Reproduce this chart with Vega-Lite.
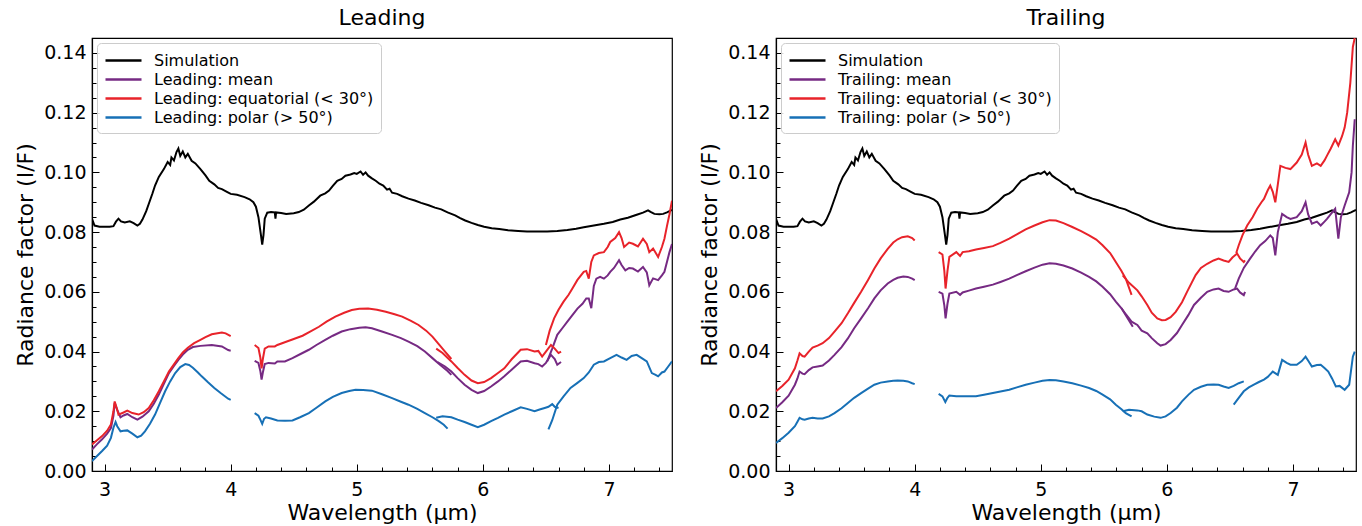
{
  "$schema": "https://vega.github.io/schema/vega-lite/v6.json",
  "padding": {"left": 14, "top": 6, "right": 4, "bottom": 2},
  "config": {
    "font": "DejaVu Sans",
    "view": {"stroke": "black", "strokeWidth": 1.2},
    "axis": {
      "grid": false, "domainColor": "black", "domainWidth": 1.2, "tickColor": "black", "tickWidth": 1,
      "labelColor": "black", "titleColor": "black", "labelFont": "DejaVu Sans", "titleFont": "DejaVu Sans",
      "labelFontSize": 19, "titleFontSize": 22, "titleFontWeight": "normal"
    },
    "legend": {
      "orient": "top-left", "offset": 5, "padding": 7, "fillColor": "rgba(255,255,255,0.85)",
      "strokeColor": "#cccccc", "cornerRadius": 4, "symbolType": "M-2,0H2", "symbolSize": 324,
      "symbolOffset": 9, "symbolStrokeWidth": 2.5, "labelFontSize": 16, "labelFont": "DejaVu Sans", "labelColor": "black",
      "labelLimit": 400, "rowPadding": 0, "labelOffset": 20
    },
    "title": {"fontSize": 22, "fontWeight": "normal", "font": "DejaVu Sans", "offset": 8, "anchor": "middle"},
    "concat": {"spacing": 25}
  },
  "datasets": {
    "sim": [
      {"s":"Simulation","w":2.90,"v":0.0844},{"s":"Simulation","w":2.92,"v":0.0822},{"s":"Simulation","w":2.96,"v":0.0818},
      {"s":"Simulation","w":3.00,"v":0.0818},{"s":"Simulation","w":3.04,"v":0.0818},{"s":"Simulation","w":3.07,"v":0.0820},
      {"s":"Simulation","w":3.09,"v":0.0835},{"s":"Simulation","w":3.11,"v":0.0845},{"s":"Simulation","w":3.13,"v":0.0836},
      {"s":"Simulation","w":3.16,"v":0.0832},{"s":"Simulation","w":3.20,"v":0.0836},{"s":"Simulation","w":3.23,"v":0.0830},
      {"s":"Simulation","w":3.26,"v":0.0822},{"s":"Simulation","w":3.28,"v":0.0828},{"s":"Simulation","w":3.30,"v":0.0842},
      {"s":"Simulation","w":3.33,"v":0.0870},{"s":"Simulation","w":3.35,"v":0.0894},{"s":"Simulation","w":3.38,"v":0.0930},
      {"s":"Simulation","w":3.40,"v":0.0956},{"s":"Simulation","w":3.43,"v":0.0985},{"s":"Simulation","w":3.47,"v":0.1011},
      {"s":"Simulation","w":3.50,"v":0.1035},{"s":"Simulation","w":3.52,"v":0.1025},{"s":"Simulation","w":3.53,"v":0.1050},
      {"s":"Simulation","w":3.55,"v":0.1040},{"s":"Simulation","w":3.57,"v":0.1068},{"s":"Simulation","w":3.585,"v":0.1080},
      {"s":"Simulation","w":3.60,"v":0.1055},{"s":"Simulation","w":3.62,"v":0.1070},{"s":"Simulation","w":3.64,"v":0.1050},
      {"s":"Simulation","w":3.66,"v":0.1062},{"s":"Simulation","w":3.69,"v":0.1039},{"s":"Simulation","w":3.72,"v":0.1030},
      {"s":"Simulation","w":3.76,"v":0.1011},{"s":"Simulation","w":3.80,"v":0.0990},{"s":"Simulation","w":3.83,"v":0.0972},
      {"s":"Simulation","w":3.87,"v":0.0960},{"s":"Simulation","w":3.90,"v":0.0948},{"s":"Simulation","w":3.93,"v":0.0944},
      {"s":"Simulation","w":3.97,"v":0.0935},{"s":"Simulation","w":4.00,"v":0.0928},{"s":"Simulation","w":4.05,"v":0.0925},
      {"s":"Simulation","w":4.11,"v":0.0917},{"s":"Simulation","w":4.15,"v":0.0910},{"s":"Simulation","w":4.18,"v":0.0900},
      {"s":"Simulation","w":4.20,"v":0.0885},{"s":"Simulation","w":4.22,"v":0.0850},{"s":"Simulation","w":4.24,"v":0.0790},
      {"s":"Simulation","w":4.25,"v":0.0758},{"s":"Simulation","w":4.26,"v":0.0790},{"s":"Simulation","w":4.27,"v":0.0845},
      {"s":"Simulation","w":4.29,"v":0.0865},{"s":"Simulation","w":4.32,"v":0.0867},{"s":"Simulation","w":4.35,"v":0.0866},
      {"s":"Simulation","w":4.355,"v":0.0845},{"s":"Simulation","w":4.36,"v":0.0866},{"s":"Simulation","w":4.40,"v":0.0864},
      {"s":"Simulation","w":4.44,"v":0.0861},{"s":"Simulation","w":4.50,"v":0.0863},{"s":"Simulation","w":4.54,"v":0.0867},
      {"s":"Simulation","w":4.58,"v":0.0875},{"s":"Simulation","w":4.62,"v":0.0889},{"s":"Simulation","w":4.66,"v":0.0902},
      {"s":"Simulation","w":4.71,"v":0.0922},{"s":"Simulation","w":4.75,"v":0.0930},{"s":"Simulation","w":4.78,"v":0.0939},
      {"s":"Simulation","w":4.81,"v":0.0955},{"s":"Simulation","w":4.845,"v":0.0972},{"s":"Simulation","w":4.88,"v":0.0978},
      {"s":"Simulation","w":4.91,"v":0.0989},{"s":"Simulation","w":4.95,"v":0.0993},{"s":"Simulation","w":4.98,"v":0.0998},
      {"s":"Simulation","w":5.00,"v":0.0995},{"s":"Simulation","w":5.03,"v":0.1003},{"s":"Simulation","w":5.05,"v":0.0992},
      {"s":"Simulation","w":5.07,"v":0.1000},{"s":"Simulation","w":5.09,"v":0.0989},{"s":"Simulation","w":5.12,"v":0.0980},
      {"s":"Simulation","w":5.15,"v":0.0972},{"s":"Simulation","w":5.18,"v":0.0962},{"s":"Simulation","w":5.21,"v":0.0956},
      {"s":"Simulation","w":5.24,"v":0.0942},{"s":"Simulation","w":5.26,"v":0.0945},{"s":"Simulation","w":5.28,"v":0.0932},
      {"s":"Simulation","w":5.32,"v":0.0928},{"s":"Simulation","w":5.36,"v":0.0920},{"s":"Simulation","w":5.41,"v":0.0912},
      {"s":"Simulation","w":5.46,"v":0.0906},{"s":"Simulation","w":5.51,"v":0.0898},{"s":"Simulation","w":5.57,"v":0.0890},
      {"s":"Simulation","w":5.62,"v":0.0882},{"s":"Simulation","w":5.67,"v":0.0876},{"s":"Simulation","w":5.72,"v":0.0866},
      {"s":"Simulation","w":5.78,"v":0.0856},{"s":"Simulation","w":5.82,"v":0.0847},{"s":"Simulation","w":5.86,"v":0.0839},
      {"s":"Simulation","w":5.91,"v":0.0831},{"s":"Simulation","w":5.96,"v":0.0824},{"s":"Simulation","w":6.01,"v":0.0818},
      {"s":"Simulation","w":6.07,"v":0.0813},{"s":"Simulation","w":6.13,"v":0.0810},{"s":"Simulation","w":6.20,"v":0.0806},
      {"s":"Simulation","w":6.28,"v":0.0804},{"s":"Simulation","w":6.35,"v":0.0802},{"s":"Simulation","w":6.43,"v":0.0802},
      {"s":"Simulation","w":6.51,"v":0.0802},{"s":"Simulation","w":6.59,"v":0.0804},{"s":"Simulation","w":6.67,"v":0.0807},
      {"s":"Simulation","w":6.74,"v":0.0811},{"s":"Simulation","w":6.80,"v":0.0816},{"s":"Simulation","w":6.88,"v":0.0822},
      {"s":"Simulation","w":6.96,"v":0.0828},{"s":"Simulation","w":7.03,"v":0.0834},{"s":"Simulation","w":7.09,"v":0.0842},
      {"s":"Simulation","w":7.15,"v":0.0848},{"s":"Simulation","w":7.22,"v":0.0858},{"s":"Simulation","w":7.27,"v":0.0865},
      {"s":"Simulation","w":7.31,"v":0.0873},{"s":"Simulation","w":7.33,"v":0.0868},{"s":"Simulation","w":7.36,"v":0.0861},
      {"s":"Simulation","w":7.40,"v":0.0860},{"s":"Simulation","w":7.43,"v":0.0861},{"s":"Simulation","w":7.46,"v":0.0866},
      {"s":"Simulation","w":7.48,"v":0.0870},{"s":"Simulation","w":7.50,"v":0.0874}
    ],
    "lead": [
      {"s":"Leading: mean","g":1,"w":2.90,"v":0.0072},{"s":"Leading: mean","g":1,"w":2.94,"v":0.0090},{"s":"Leading: mean","g":1,"w":2.98,"v":0.0106},
      {"s":"Leading: mean","g":1,"w":3.02,"v":0.0125},{"s":"Leading: mean","g":1,"w":3.05,"v":0.0144},{"s":"Leading: mean","g":1,"w":3.07,"v":0.0185},
      {"s":"Leading: mean","g":1,"w":3.08,"v":0.0228},{"s":"Leading: mean","g":1,"w":3.10,"v":0.0205},{"s":"Leading: mean","g":1,"w":3.126,"v":0.0180},
      {"s":"Leading: mean","g":1,"w":3.15,"v":0.0186},{"s":"Leading: mean","g":1,"w":3.18,"v":0.0191},{"s":"Leading: mean","g":1,"w":3.22,"v":0.0180},
      {"s":"Leading: mean","g":1,"w":3.26,"v":0.0172},{"s":"Leading: mean","g":1,"w":3.30,"v":0.0182},{"s":"Leading: mean","g":1,"w":3.35,"v":0.0200},
      {"s":"Leading: mean","g":1,"w":3.39,"v":0.0225},{"s":"Leading: mean","g":1,"w":3.43,"v":0.0256},{"s":"Leading: mean","g":1,"w":3.47,"v":0.0292},
      {"s":"Leading: mean","g":1,"w":3.51,"v":0.0328},{"s":"Leading: mean","g":1,"w":3.55,"v":0.0352},{"s":"Leading: mean","g":1,"w":3.585,"v":0.0372},
      {"s":"Leading: mean","g":1,"w":3.62,"v":0.0390},{"s":"Leading: mean","g":1,"w":3.66,"v":0.0406},{"s":"Leading: mean","g":1,"w":3.70,"v":0.0415},
      {"s":"Leading: mean","g":1,"w":3.76,"v":0.0419},{"s":"Leading: mean","g":1,"w":3.85,"v":0.0422},{"s":"Leading: mean","g":1,"w":3.93,"v":0.0417},
      {"s":"Leading: mean","g":1,"w":3.98,"v":0.0405},{"s":"Leading: mean","g":1,"w":4.00,"v":0.0403},
      {"s":"Leading: mean","g":2,"w":4.19,"v":0.0369},{"s":"Leading: mean","g":2,"w":4.22,"v":0.0362},{"s":"Leading: mean","g":2,"w":4.235,"v":0.0335},
      {"s":"Leading: mean","g":2,"w":4.245,"v":0.0306},{"s":"Leading: mean","g":2,"w":4.255,"v":0.0330},{"s":"Leading: mean","g":2,"w":4.27,"v":0.0358},
      {"s":"Leading: mean","g":2,"w":4.30,"v":0.0362},{"s":"Leading: mean","g":2,"w":4.35,"v":0.0360},{"s":"Leading: mean","g":2,"w":4.37,"v":0.0367},
      {"s":"Leading: mean","g":2,"w":4.43,"v":0.0367},{"s":"Leading: mean","g":2,"w":4.49,"v":0.0378},{"s":"Leading: mean","g":2,"w":4.55,"v":0.0391},
      {"s":"Leading: mean","g":2,"w":4.62,"v":0.0406},{"s":"Leading: mean","g":2,"w":4.68,"v":0.0422},{"s":"Leading: mean","g":2,"w":4.75,"v":0.0439},
      {"s":"Leading: mean","g":2,"w":4.81,"v":0.0453},{"s":"Leading: mean","g":2,"w":4.88,"v":0.0467},{"s":"Leading: mean","g":2,"w":4.95,"v":0.0475},
      {"s":"Leading: mean","g":2,"w":5.02,"v":0.0480},{"s":"Leading: mean","g":2,"w":5.07,"v":0.0481},{"s":"Leading: mean","g":2,"w":5.12,"v":0.0478},
      {"s":"Leading: mean","g":2,"w":5.20,"v":0.0467},{"s":"Leading: mean","g":2,"w":5.28,"v":0.0456},{"s":"Leading: mean","g":2,"w":5.35,"v":0.0445},
      {"s":"Leading: mean","g":2,"w":5.41,"v":0.0433},{"s":"Leading: mean","g":2,"w":5.48,"v":0.0418},{"s":"Leading: mean","g":2,"w":5.54,"v":0.0400},
      {"s":"Leading: mean","g":2,"w":5.60,"v":0.0378},{"s":"Leading: mean","g":2,"w":5.66,"v":0.0356},{"s":"Leading: mean","g":2,"w":5.72,"v":0.0335},
      {"s":"Leading: mean","g":2,"w":5.75,"v":0.0322},
      {"s":"Leading: mean","g":3,"w":5.64,"v":0.0365},{"s":"Leading: mean","g":3,"w":5.70,"v":0.0350},{"s":"Leading: mean","g":3,"w":5.75,"v":0.0333},
      {"s":"Leading: mean","g":3,"w":5.80,"v":0.0311},{"s":"Leading: mean","g":3,"w":5.855,"v":0.0289},{"s":"Leading: mean","g":3,"w":5.91,"v":0.0272},
      {"s":"Leading: mean","g":3,"w":5.96,"v":0.0261},{"s":"Leading: mean","g":3,"w":6.01,"v":0.0268},{"s":"Leading: mean","g":3,"w":6.065,"v":0.0283},
      {"s":"Leading: mean","g":3,"w":6.12,"v":0.0300},{"s":"Leading: mean","g":3,"w":6.17,"v":0.0317},{"s":"Leading: mean","g":3,"w":6.23,"v":0.0340},
      {"s":"Leading: mean","g":3,"w":6.30,"v":0.0367},{"s":"Leading: mean","g":3,"w":6.35,"v":0.0369},{"s":"Leading: mean","g":3,"w":6.41,"v":0.0361},
      {"s":"Leading: mean","g":3,"w":6.44,"v":0.0358},{"s":"Leading: mean","g":3,"w":6.47,"v":0.0350},{"s":"Leading: mean","g":3,"w":6.50,"v":0.0362},
      {"s":"Leading: mean","g":3,"w":6.54,"v":0.0389},{"s":"Leading: mean","g":3,"w":6.57,"v":0.0375},{"s":"Leading: mean","g":3,"w":6.59,"v":0.0356},
      {"s":"Leading: mean","g":3,"w":6.62,"v":0.0365},
      {"s":"Leading: mean","g":4,"w":6.51,"v":0.0367},{"s":"Leading: mean","g":4,"w":6.55,"v":0.0410},{"s":"Leading: mean","g":4,"w":6.59,"v":0.0456},
      {"s":"Leading: mean","g":4,"w":6.63,"v":0.0478},{"s":"Leading: mean","g":4,"w":6.67,"v":0.0500},{"s":"Leading: mean","g":4,"w":6.71,"v":0.0522},
      {"s":"Leading: mean","g":4,"w":6.75,"v":0.0544},{"s":"Leading: mean","g":4,"w":6.79,"v":0.0560},{"s":"Leading: mean","g":4,"w":6.82,"v":0.0578},
      {"s":"Leading: mean","g":4,"w":6.84,"v":0.0578},{"s":"Leading: mean","g":4,"w":6.86,"v":0.0545},{"s":"Leading: mean","g":4,"w":6.88,"v":0.0620},
      {"s":"Leading: mean","g":4,"w":6.90,"v":0.0644},{"s":"Leading: mean","g":4,"w":6.93,"v":0.0650},{"s":"Leading: mean","g":4,"w":6.96,"v":0.0644},
      {"s":"Leading: mean","g":4,"w":6.99,"v":0.0655},{"s":"Leading: mean","g":4,"w":7.01,"v":0.0667},{"s":"Leading: mean","g":4,"w":7.04,"v":0.0680},
      {"s":"Leading: mean","g":4,"w":7.08,"v":0.0706},{"s":"Leading: mean","g":4,"w":7.10,"v":0.0690},{"s":"Leading: mean","g":4,"w":7.13,"v":0.0672},
      {"s":"Leading: mean","g":4,"w":7.16,"v":0.0680},{"s":"Leading: mean","g":4,"w":7.19,"v":0.0678},{"s":"Leading: mean","g":4,"w":7.23,"v":0.0668},
      {"s":"Leading: mean","g":4,"w":7.27,"v":0.0683},{"s":"Leading: mean","g":4,"w":7.30,"v":0.0665},{"s":"Leading: mean","g":4,"w":7.32,"v":0.0622},
      {"s":"Leading: mean","g":4,"w":7.35,"v":0.0645},{"s":"Leading: mean","g":4,"w":7.39,"v":0.0639},{"s":"Leading: mean","g":4,"w":7.42,"v":0.0655},
      {"s":"Leading: mean","g":4,"w":7.44,"v":0.0667},{"s":"Leading: mean","g":4,"w":7.46,"v":0.0700},{"s":"Leading: mean","g":4,"w":7.48,"v":0.0733},
      {"s":"Leading: mean","g":4,"w":7.50,"v":0.0760},

      {"s":"Leading: equatorial (< 30°)","g":1,"w":2.90,"v":0.0089},{"s":"Leading: equatorial (< 30°)","g":1,"w":2.94,"v":0.0103},{"s":"Leading: equatorial (< 30°)","g":1,"w":2.98,"v":0.0117},
      {"s":"Leading: equatorial (< 30°)","g":1,"w":3.02,"v":0.0135},{"s":"Leading: equatorial (< 30°)","g":1,"w":3.05,"v":0.0156},{"s":"Leading: equatorial (< 30°)","g":1,"w":3.07,"v":0.0200},
      {"s":"Leading: equatorial (< 30°)","g":1,"w":3.08,"v":0.0233},{"s":"Leading: equatorial (< 30°)","g":1,"w":3.10,"v":0.0205},{"s":"Leading: equatorial (< 30°)","g":1,"w":3.11,"v":0.0189},
      {"s":"Leading: equatorial (< 30°)","g":1,"w":3.15,"v":0.0196},{"s":"Leading: equatorial (< 30°)","g":1,"w":3.18,"v":0.0202},{"s":"Leading: equatorial (< 30°)","g":1,"w":3.22,"v":0.0194},
      {"s":"Leading: equatorial (< 30°)","g":1,"w":3.27,"v":0.0189},{"s":"Leading: equatorial (< 30°)","g":1,"w":3.31,"v":0.0197},{"s":"Leading: equatorial (< 30°)","g":1,"w":3.35,"v":0.0211},
      {"s":"Leading: equatorial (< 30°)","g":1,"w":3.39,"v":0.0237},{"s":"Leading: equatorial (< 30°)","g":1,"w":3.43,"v":0.0267},{"s":"Leading: equatorial (< 30°)","g":1,"w":3.47,"v":0.0300},
      {"s":"Leading: equatorial (< 30°)","g":1,"w":3.51,"v":0.0333},{"s":"Leading: equatorial (< 30°)","g":1,"w":3.55,"v":0.0357},{"s":"Leading: equatorial (< 30°)","g":1,"w":3.585,"v":0.0378},
      {"s":"Leading: equatorial (< 30°)","g":1,"w":3.62,"v":0.0397},{"s":"Leading: equatorial (< 30°)","g":1,"w":3.66,"v":0.0413},{"s":"Leading: equatorial (< 30°)","g":1,"w":3.71,"v":0.0428},
      {"s":"Leading: equatorial (< 30°)","g":1,"w":3.76,"v":0.0439},{"s":"Leading: equatorial (< 30°)","g":1,"w":3.80,"v":0.0448},{"s":"Leading: equatorial (< 30°)","g":1,"w":3.85,"v":0.0458},
      {"s":"Leading: equatorial (< 30°)","g":1,"w":3.93,"v":0.0464},{"s":"Leading: equatorial (< 30°)","g":1,"w":3.96,"v":0.0461},{"s":"Leading: equatorial (< 30°)","g":1,"w":4.00,"v":0.0452},
      {"s":"Leading: equatorial (< 30°)","g":2,"w":4.19,"v":0.0422},{"s":"Leading: equatorial (< 30°)","g":2,"w":4.22,"v":0.0412},{"s":"Leading: equatorial (< 30°)","g":2,"w":4.235,"v":0.0380},
      {"s":"Leading: equatorial (< 30°)","g":2,"w":4.245,"v":0.0344},{"s":"Leading: equatorial (< 30°)","g":2,"w":4.255,"v":0.0375},{"s":"Leading: equatorial (< 30°)","g":2,"w":4.27,"v":0.0410},
      {"s":"Leading: equatorial (< 30°)","g":2,"w":4.30,"v":0.0417},{"s":"Leading: equatorial (< 30°)","g":2,"w":4.35,"v":0.0417},{"s":"Leading: equatorial (< 30°)","g":2,"w":4.37,"v":0.0422},
      {"s":"Leading: equatorial (< 30°)","g":2,"w":4.44,"v":0.0433},{"s":"Leading: equatorial (< 30°)","g":2,"w":4.50,"v":0.0442},{"s":"Leading: equatorial (< 30°)","g":2,"w":4.57,"v":0.0453},
      {"s":"Leading: equatorial (< 30°)","g":2,"w":4.63,"v":0.0467},{"s":"Leading: equatorial (< 30°)","g":2,"w":4.70,"v":0.0483},{"s":"Leading: equatorial (< 30°)","g":2,"w":4.76,"v":0.0500},
      {"s":"Leading: equatorial (< 30°)","g":2,"w":4.83,"v":0.0517},{"s":"Leading: equatorial (< 30°)","g":2,"w":4.90,"v":0.0530},{"s":"Leading: equatorial (< 30°)","g":2,"w":4.96,"v":0.0539},
      {"s":"Leading: equatorial (< 30°)","g":2,"w":5.02,"v":0.0543},{"s":"Leading: equatorial (< 30°)","g":2,"w":5.09,"v":0.0544},{"s":"Leading: equatorial (< 30°)","g":2,"w":5.16,"v":0.0540},
      {"s":"Leading: equatorial (< 30°)","g":2,"w":5.23,"v":0.0533},{"s":"Leading: equatorial (< 30°)","g":2,"w":5.30,"v":0.0525},{"s":"Leading: equatorial (< 30°)","g":2,"w":5.36,"v":0.0517},
      {"s":"Leading: equatorial (< 30°)","g":2,"w":5.43,"v":0.0503},{"s":"Leading: equatorial (< 30°)","g":2,"w":5.49,"v":0.0489},{"s":"Leading: equatorial (< 30°)","g":2,"w":5.55,"v":0.0470},
      {"s":"Leading: equatorial (< 30°)","g":2,"w":5.60,"v":0.0450},{"s":"Leading: equatorial (< 30°)","g":2,"w":5.65,"v":0.0425},{"s":"Leading: equatorial (< 30°)","g":2,"w":5.70,"v":0.0400},
      {"s":"Leading: equatorial (< 30°)","g":2,"w":5.75,"v":0.0375},
      {"s":"Leading: equatorial (< 30°)","g":3,"w":5.63,"v":0.0410},{"s":"Leading: equatorial (< 30°)","g":3,"w":5.68,"v":0.0395},{"s":"Leading: equatorial (< 30°)","g":3,"w":5.75,"v":0.0367},
      {"s":"Leading: equatorial (< 30°)","g":3,"w":5.80,"v":0.0345},{"s":"Leading: equatorial (< 30°)","g":3,"w":5.855,"v":0.0322},{"s":"Leading: equatorial (< 30°)","g":3,"w":5.91,"v":0.0303},
      {"s":"Leading: equatorial (< 30°)","g":3,"w":5.96,"v":0.0294},{"s":"Leading: equatorial (< 30°)","g":3,"w":6.01,"v":0.0298},{"s":"Leading: equatorial (< 30°)","g":3,"w":6.065,"v":0.0311},
      {"s":"Leading: equatorial (< 30°)","g":3,"w":6.12,"v":0.0328},{"s":"Leading: equatorial (< 30°)","g":3,"w":6.17,"v":0.0344},{"s":"Leading: equatorial (< 30°)","g":3,"w":6.23,"v":0.0375},
      {"s":"Leading: equatorial (< 30°)","g":3,"w":6.30,"v":0.0406},{"s":"Leading: equatorial (< 30°)","g":3,"w":6.35,"v":0.0408},{"s":"Leading: equatorial (< 30°)","g":3,"w":6.41,"v":0.0400},
      {"s":"Leading: equatorial (< 30°)","g":3,"w":6.44,"v":0.0402},{"s":"Leading: equatorial (< 30°)","g":3,"w":6.47,"v":0.0383},{"s":"Leading: equatorial (< 30°)","g":3,"w":6.50,"v":0.0400},
      {"s":"Leading: equatorial (< 30°)","g":3,"w":6.54,"v":0.0422},{"s":"Leading: equatorial (< 30°)","g":3,"w":6.57,"v":0.0410},{"s":"Leading: equatorial (< 30°)","g":3,"w":6.60,"v":0.0395},
      {"s":"Leading: equatorial (< 30°)","g":3,"w":6.62,"v":0.0400},
      {"s":"Leading: equatorial (< 30°)","g":4,"w":6.50,"v":0.0422},{"s":"Leading: equatorial (< 30°)","g":4,"w":6.53,"v":0.0470},{"s":"Leading: equatorial (< 30°)","g":4,"w":6.565,"v":0.0511},
      {"s":"Leading: equatorial (< 30°)","g":4,"w":6.60,"v":0.0540},{"s":"Leading: equatorial (< 30°)","g":4,"w":6.64,"v":0.0567},{"s":"Leading: equatorial (< 30°)","g":4,"w":6.68,"v":0.0590},
      {"s":"Leading: equatorial (< 30°)","g":4,"w":6.71,"v":0.0611},{"s":"Leading: equatorial (< 30°)","g":4,"w":6.75,"v":0.0640},{"s":"Leading: equatorial (< 30°)","g":4,"w":6.80,"v":0.0667},
      {"s":"Leading: equatorial (< 30°)","g":4,"w":6.82,"v":0.0670},{"s":"Leading: equatorial (< 30°)","g":4,"w":6.84,"v":0.0644},{"s":"Leading: equatorial (< 30°)","g":4,"w":6.86,"v":0.0700},
      {"s":"Leading: equatorial (< 30°)","g":4,"w":6.88,"v":0.0722},{"s":"Leading: equatorial (< 30°)","g":4,"w":6.92,"v":0.0730},{"s":"Leading: equatorial (< 30°)","g":4,"w":6.96,"v":0.0733},
      {"s":"Leading: equatorial (< 30°)","g":4,"w":6.99,"v":0.0750},{"s":"Leading: equatorial (< 30°)","g":4,"w":7.01,"v":0.0767},{"s":"Leading: equatorial (< 30°)","g":4,"w":7.05,"v":0.0780},
      {"s":"Leading: equatorial (< 30°)","g":4,"w":7.08,"v":0.0800},{"s":"Leading: equatorial (< 30°)","g":4,"w":7.10,"v":0.0780},{"s":"Leading: equatorial (< 30°)","g":4,"w":7.12,"v":0.0750},
      {"s":"Leading: equatorial (< 30°)","g":4,"w":7.16,"v":0.0765},{"s":"Leading: equatorial (< 30°)","g":4,"w":7.19,"v":0.0761},{"s":"Leading: equatorial (< 30°)","g":4,"w":7.23,"v":0.0752},
      {"s":"Leading: equatorial (< 30°)","g":4,"w":7.27,"v":0.0778},{"s":"Leading: equatorial (< 30°)","g":4,"w":7.30,"v":0.0760},{"s":"Leading: equatorial (< 30°)","g":4,"w":7.32,"v":0.0733},
      {"s":"Leading: equatorial (< 30°)","g":4,"w":7.35,"v":0.0745},{"s":"Leading: equatorial (< 30°)","g":4,"w":7.39,"v":0.0717},{"s":"Leading: equatorial (< 30°)","g":4,"w":7.42,"v":0.0750},
      {"s":"Leading: equatorial (< 30°)","g":4,"w":7.44,"v":0.0778},{"s":"Leading: equatorial (< 30°)","g":4,"w":7.46,"v":0.0820},{"s":"Leading: equatorial (< 30°)","g":4,"w":7.48,"v":0.0860},
      {"s":"Leading: equatorial (< 30°)","g":4,"w":7.50,"v":0.0905},

      {"s":"Leading: polar (> 50°)","g":1,"w":2.90,"v":0.0033},{"s":"Leading: polar (> 50°)","g":1,"w":2.94,"v":0.0050},{"s":"Leading: polar (> 50°)","g":1,"w":2.98,"v":0.0067},
      {"s":"Leading: polar (> 50°)","g":1,"w":3.02,"v":0.0085},{"s":"Leading: polar (> 50°)","g":1,"w":3.05,"v":0.0111},{"s":"Leading: polar (> 50°)","g":1,"w":3.07,"v":0.0145},
      {"s":"Leading: polar (> 50°)","g":1,"w":3.087,"v":0.0164},{"s":"Leading: polar (> 50°)","g":1,"w":3.10,"v":0.0150},{"s":"Leading: polar (> 50°)","g":1,"w":3.126,"v":0.0133},
      {"s":"Leading: polar (> 50°)","g":1,"w":3.15,"v":0.0135},{"s":"Leading: polar (> 50°)","g":1,"w":3.18,"v":0.0136},{"s":"Leading: polar (> 50°)","g":1,"w":3.22,"v":0.0125},
      {"s":"Leading: polar (> 50°)","g":1,"w":3.26,"v":0.0113},{"s":"Leading: polar (> 50°)","g":1,"w":3.29,"v":0.0118},{"s":"Leading: polar (> 50°)","g":1,"w":3.32,"v":0.0133},
      {"s":"Leading: polar (> 50°)","g":1,"w":3.36,"v":0.0158},{"s":"Leading: polar (> 50°)","g":1,"w":3.40,"v":0.0189},{"s":"Leading: polar (> 50°)","g":1,"w":3.44,"v":0.0228},
      {"s":"Leading: polar (> 50°)","g":1,"w":3.48,"v":0.0267},{"s":"Leading: polar (> 50°)","g":1,"w":3.52,"v":0.0300},{"s":"Leading: polar (> 50°)","g":1,"w":3.56,"v":0.0328},
      {"s":"Leading: polar (> 50°)","g":1,"w":3.60,"v":0.0348},{"s":"Leading: polar (> 50°)","g":1,"w":3.64,"v":0.0358},{"s":"Leading: polar (> 50°)","g":1,"w":3.67,"v":0.0355},
      {"s":"Leading: polar (> 50°)","g":1,"w":3.70,"v":0.0346},{"s":"Leading: polar (> 50°)","g":1,"w":3.74,"v":0.0330},{"s":"Leading: polar (> 50°)","g":1,"w":3.77,"v":0.0317},
      {"s":"Leading: polar (> 50°)","g":1,"w":3.82,"v":0.0297},{"s":"Leading: polar (> 50°)","g":1,"w":3.87,"v":0.0278},{"s":"Leading: polar (> 50°)","g":1,"w":3.92,"v":0.0261},
      {"s":"Leading: polar (> 50°)","g":1,"w":3.98,"v":0.0242},{"s":"Leading: polar (> 50°)","g":1,"w":4.00,"v":0.0238},
      {"s":"Leading: polar (> 50°)","g":2,"w":4.19,"v":0.0194},{"s":"Leading: polar (> 50°)","g":2,"w":4.22,"v":0.0185},{"s":"Leading: polar (> 50°)","g":2,"w":4.235,"v":0.0172},
      {"s":"Leading: polar (> 50°)","g":2,"w":4.25,"v":0.0158},{"s":"Leading: polar (> 50°)","g":2,"w":4.265,"v":0.0175},{"s":"Leading: polar (> 50°)","g":2,"w":4.28,"v":0.0180},
      {"s":"Leading: polar (> 50°)","g":2,"w":4.32,"v":0.0176},{"s":"Leading: polar (> 50°)","g":2,"w":4.37,"v":0.0169},{"s":"Leading: polar (> 50°)","g":2,"w":4.43,"v":0.0168},
      {"s":"Leading: polar (> 50°)","g":2,"w":4.49,"v":0.0169},{"s":"Leading: polar (> 50°)","g":2,"w":4.55,"v":0.0180},{"s":"Leading: polar (> 50°)","g":2,"w":4.62,"v":0.0194},
      {"s":"Leading: polar (> 50°)","g":2,"w":4.68,"v":0.0212},{"s":"Leading: polar (> 50°)","g":2,"w":4.75,"v":0.0233},{"s":"Leading: polar (> 50°)","g":2,"w":4.81,"v":0.0248},
      {"s":"Leading: polar (> 50°)","g":2,"w":4.88,"v":0.0261},{"s":"Leading: polar (> 50°)","g":2,"w":4.94,"v":0.0268},{"s":"Leading: polar (> 50°)","g":2,"w":4.99,"v":0.0272},
      {"s":"Leading: polar (> 50°)","g":2,"w":5.05,"v":0.0271},{"s":"Leading: polar (> 50°)","g":2,"w":5.12,"v":0.0269},{"s":"Leading: polar (> 50°)","g":2,"w":5.20,"v":0.0257},
      {"s":"Leading: polar (> 50°)","g":2,"w":5.28,"v":0.0244},{"s":"Leading: polar (> 50°)","g":2,"w":5.35,"v":0.0232},{"s":"Leading: polar (> 50°)","g":2,"w":5.41,"v":0.0222},
      {"s":"Leading: polar (> 50°)","g":2,"w":5.48,"v":0.0208},{"s":"Leading: polar (> 50°)","g":2,"w":5.54,"v":0.0194},{"s":"Leading: polar (> 50°)","g":2,"w":5.60,"v":0.0180},
      {"s":"Leading: polar (> 50°)","g":2,"w":5.65,"v":0.0167},{"s":"Leading: polar (> 50°)","g":2,"w":5.69,"v":0.0155},{"s":"Leading: polar (> 50°)","g":2,"w":5.72,"v":0.0142},
      {"s":"Leading: polar (> 50°)","g":3,"w":5.63,"v":0.0178},{"s":"Leading: polar (> 50°)","g":3,"w":5.68,"v":0.0183},{"s":"Leading: polar (> 50°)","g":3,"w":5.75,"v":0.0180},
      {"s":"Leading: polar (> 50°)","g":3,"w":5.80,"v":0.0172},{"s":"Leading: polar (> 50°)","g":3,"w":5.855,"v":0.0164},{"s":"Leading: polar (> 50°)","g":3,"w":5.91,"v":0.0155},
      {"s":"Leading: polar (> 50°)","g":3,"w":5.96,"v":0.0147},{"s":"Leading: polar (> 50°)","g":3,"w":6.01,"v":0.0155},{"s":"Leading: polar (> 50°)","g":3,"w":6.065,"v":0.0167},
      {"s":"Leading: polar (> 50°)","g":3,"w":6.12,"v":0.0178},{"s":"Leading: polar (> 50°)","g":3,"w":6.17,"v":0.0189},{"s":"Leading: polar (> 50°)","g":3,"w":6.23,"v":0.0200},
      {"s":"Leading: polar (> 50°)","g":3,"w":6.30,"v":0.0213},{"s":"Leading: polar (> 50°)","g":3,"w":6.35,"v":0.0208},{"s":"Leading: polar (> 50°)","g":3,"w":6.41,"v":0.0200},
      {"s":"Leading: polar (> 50°)","g":3,"w":6.45,"v":0.0206},{"s":"Leading: polar (> 50°)","g":3,"w":6.49,"v":0.0211},{"s":"Leading: polar (> 50°)","g":3,"w":6.52,"v":0.0215},
      {"s":"Leading: polar (> 50°)","g":3,"w":6.55,"v":0.0224},{"s":"Leading: polar (> 50°)","g":3,"w":6.57,"v":0.0215},{"s":"Leading: polar (> 50°)","g":3,"w":6.60,"v":0.0211},
      {"s":"Leading: polar (> 50°)","g":4,"w":6.52,"v":0.0139},{"s":"Leading: polar (> 50°)","g":4,"w":6.55,"v":0.0170},{"s":"Leading: polar (> 50°)","g":4,"w":6.59,"v":0.0222},
      {"s":"Leading: polar (> 50°)","g":4,"w":6.64,"v":0.0250},{"s":"Leading: polar (> 50°)","g":4,"w":6.695,"v":0.0278},{"s":"Leading: polar (> 50°)","g":4,"w":6.75,"v":0.0295},
      {"s":"Leading: polar (> 50°)","g":4,"w":6.80,"v":0.0311},{"s":"Leading: polar (> 50°)","g":4,"w":6.84,"v":0.0330},{"s":"Leading: polar (> 50°)","g":4,"w":6.88,"v":0.0356},
      {"s":"Leading: polar (> 50°)","g":4,"w":6.92,"v":0.0365},{"s":"Leading: polar (> 50°)","g":4,"w":6.96,"v":0.0367},{"s":"Leading: polar (> 50°)","g":4,"w":7.01,"v":0.0378},
      {"s":"Leading: polar (> 50°)","g":4,"w":7.06,"v":0.0389},{"s":"Leading: polar (> 50°)","g":4,"w":7.10,"v":0.0380},{"s":"Leading: polar (> 50°)","g":4,"w":7.14,"v":0.0372},
      {"s":"Leading: polar (> 50°)","g":4,"w":7.18,"v":0.0385},{"s":"Leading: polar (> 50°)","g":4,"w":7.22,"v":0.0389},{"s":"Leading: polar (> 50°)","g":4,"w":7.26,"v":0.0378},
      {"s":"Leading: polar (> 50°)","g":4,"w":7.30,"v":0.0367},{"s":"Leading: polar (> 50°)","g":4,"w":7.34,"v":0.0328},{"s":"Leading: polar (> 50°)","g":4,"w":7.37,"v":0.0322},
      {"s":"Leading: polar (> 50°)","g":4,"w":7.39,"v":0.0317},{"s":"Leading: polar (> 50°)","g":4,"w":7.42,"v":0.0330},{"s":"Leading: polar (> 50°)","g":4,"w":7.44,"v":0.0333},
      {"s":"Leading: polar (> 50°)","g":4,"w":7.47,"v":0.0350},{"s":"Leading: polar (> 50°)","g":4,"w":7.50,"v":0.0367}
    ],
    "trail": [
      {"s":"Trailing: mean","g":1,"w":2.90,"v":0.0211},{"s":"Trailing: mean","g":1,"w":2.95,"v":0.0230},{"s":"Trailing: mean","g":1,"w":3.00,"v":0.0252},
      {"s":"Trailing: mean","g":1,"w":3.05,"v":0.0289},{"s":"Trailing: mean","g":1,"w":3.07,"v":0.0310},{"s":"Trailing: mean","g":1,"w":3.087,"v":0.0333},
      {"s":"Trailing: mean","g":1,"w":3.11,"v":0.0326},{"s":"Trailing: mean","g":1,"w":3.127,"v":0.0324},{"s":"Trailing: mean","g":1,"w":3.16,"v":0.0338},
      {"s":"Trailing: mean","g":1,"w":3.19,"v":0.0347},{"s":"Trailing: mean","g":1,"w":3.23,"v":0.0350},{"s":"Trailing: mean","g":1,"w":3.27,"v":0.0353},
      {"s":"Trailing: mean","g":1,"w":3.32,"v":0.0370},{"s":"Trailing: mean","g":1,"w":3.364,"v":0.0389},{"s":"Trailing: mean","g":1,"w":3.42,"v":0.0415},
      {"s":"Trailing: mean","g":1,"w":3.47,"v":0.0444},{"s":"Trailing: mean","g":1,"w":3.52,"v":0.0478},{"s":"Trailing: mean","g":1,"w":3.575,"v":0.0511},
      {"s":"Trailing: mean","g":1,"w":3.63,"v":0.0545},{"s":"Trailing: mean","g":1,"w":3.68,"v":0.0578},{"s":"Trailing: mean","g":1,"w":3.73,"v":0.0605},
      {"s":"Trailing: mean","g":1,"w":3.786,"v":0.0628},{"s":"Trailing: mean","g":1,"w":3.83,"v":0.0640},{"s":"Trailing: mean","g":1,"w":3.865,"v":0.0647},
      {"s":"Trailing: mean","g":1,"w":3.91,"v":0.0651},{"s":"Trailing: mean","g":1,"w":3.945,"v":0.0650},{"s":"Trailing: mean","g":1,"w":3.98,"v":0.0644},
      {"s":"Trailing: mean","g":1,"w":4.00,"v":0.0639},
      {"s":"Trailing: mean","g":2,"w":4.19,"v":0.0600},{"s":"Trailing: mean","g":2,"w":4.22,"v":0.0594},{"s":"Trailing: mean","g":2,"w":4.235,"v":0.0555},
      {"s":"Trailing: mean","g":2,"w":4.245,"v":0.0511},{"s":"Trailing: mean","g":2,"w":4.26,"v":0.0560},{"s":"Trailing: mean","g":2,"w":4.275,"v":0.0594},
      {"s":"Trailing: mean","g":2,"w":4.33,"v":0.0600},{"s":"Trailing: mean","g":2,"w":4.36,"v":0.0590},{"s":"Trailing: mean","g":2,"w":4.38,"v":0.0598},
      {"s":"Trailing: mean","g":2,"w":4.43,"v":0.0604},{"s":"Trailing: mean","g":2,"w":4.486,"v":0.0611},{"s":"Trailing: mean","g":2,"w":4.55,"v":0.0617},
      {"s":"Trailing: mean","g":2,"w":4.62,"v":0.0624},{"s":"Trailing: mean","g":2,"w":4.68,"v":0.0633},{"s":"Trailing: mean","g":2,"w":4.75,"v":0.0644},
      {"s":"Trailing: mean","g":2,"w":4.81,"v":0.0656},{"s":"Trailing: mean","g":2,"w":4.88,"v":0.0669},{"s":"Trailing: mean","g":2,"w":4.95,"v":0.0681},
      {"s":"Trailing: mean","g":2,"w":5.014,"v":0.0691},{"s":"Trailing: mean","g":2,"w":5.07,"v":0.0696},{"s":"Trailing: mean","g":2,"w":5.12,"v":0.0694},
      {"s":"Trailing: mean","g":2,"w":5.18,"v":0.0688},{"s":"Trailing: mean","g":2,"w":5.25,"v":0.0678},{"s":"Trailing: mean","g":2,"w":5.32,"v":0.0664},
      {"s":"Trailing: mean","g":2,"w":5.383,"v":0.0650},{"s":"Trailing: mean","g":2,"w":5.44,"v":0.0635},{"s":"Trailing: mean","g":2,"w":5.49,"v":0.0617},
      {"s":"Trailing: mean","g":2,"w":5.55,"v":0.0592},{"s":"Trailing: mean","g":2,"w":5.595,"v":0.0567},{"s":"Trailing: mean","g":2,"w":5.64,"v":0.0545},
      {"s":"Trailing: mean","g":2,"w":5.674,"v":0.0522},{"s":"Trailing: mean","g":2,"w":5.73,"v":0.0483},
      {"s":"Trailing: mean","g":3,"w":5.64,"v":0.0545},{"s":"Trailing: mean","g":3,"w":5.674,"v":0.0525},{"s":"Trailing: mean","g":3,"w":5.72,"v":0.0500},
      {"s":"Trailing: mean","g":3,"w":5.766,"v":0.0489},{"s":"Trailing: mean","g":3,"w":5.80,"v":0.0470},{"s":"Trailing: mean","g":3,"w":5.845,"v":0.0461},
      {"s":"Trailing: mean","g":3,"w":5.88,"v":0.0445},{"s":"Trailing: mean","g":3,"w":5.924,"v":0.0428},{"s":"Trailing: mean","g":3,"w":5.95,"v":0.0420},
      {"s":"Trailing: mean","g":3,"w":5.99,"v":0.0425},{"s":"Trailing: mean","g":3,"w":6.03,"v":0.0439},{"s":"Trailing: mean","g":3,"w":6.08,"v":0.0462},
      {"s":"Trailing: mean","g":3,"w":6.12,"v":0.0489},{"s":"Trailing: mean","g":3,"w":6.17,"v":0.0522},{"s":"Trailing: mean","g":3,"w":6.215,"v":0.0556},
      {"s":"Trailing: mean","g":3,"w":6.27,"v":0.0580},{"s":"Trailing: mean","g":3,"w":6.32,"v":0.0600},{"s":"Trailing: mean","g":3,"w":6.37,"v":0.0608},
      {"s":"Trailing: mean","g":3,"w":6.41,"v":0.0611},{"s":"Trailing: mean","g":3,"w":6.45,"v":0.0603},{"s":"Trailing: mean","g":3,"w":6.49,"v":0.0600},
      {"s":"Trailing: mean","g":3,"w":6.53,"v":0.0608},{"s":"Trailing: mean","g":3,"w":6.557,"v":0.0611},{"s":"Trailing: mean","g":3,"w":6.58,"v":0.0598},
      {"s":"Trailing: mean","g":3,"w":6.61,"v":0.0589},{"s":"Trailing: mean","g":3,"w":6.62,"v":0.0600},
      {"s":"Trailing: mean","g":4,"w":6.54,"v":0.0610},{"s":"Trailing: mean","g":4,"w":6.57,"v":0.0644},{"s":"Trailing: mean","g":4,"w":6.61,"v":0.0680},
      {"s":"Trailing: mean","g":4,"w":6.66,"v":0.0711},{"s":"Trailing: mean","g":4,"w":6.70,"v":0.0735},{"s":"Trailing: mean","g":4,"w":6.74,"v":0.0756},
      {"s":"Trailing: mean","g":4,"w":6.78,"v":0.0770},{"s":"Trailing: mean","g":4,"w":6.82,"v":0.0789},{"s":"Trailing: mean","g":4,"w":6.84,"v":0.0780},
      {"s":"Trailing: mean","g":4,"w":6.86,"v":0.0722},{"s":"Trailing: mean","g":4,"w":6.88,"v":0.0800},{"s":"Trailing: mean","g":4,"w":6.914,"v":0.0861},
      {"s":"Trailing: mean","g":4,"w":6.95,"v":0.0850},{"s":"Trailing: mean","g":4,"w":6.98,"v":0.0844},{"s":"Trailing: mean","g":4,"w":7.03,"v":0.0850},
      {"s":"Trailing: mean","g":4,"w":7.07,"v":0.0870},{"s":"Trailing: mean","g":4,"w":7.10,"v":0.0900},{"s":"Trailing: mean","g":4,"w":7.12,"v":0.0860},
      {"s":"Trailing: mean","g":4,"w":7.15,"v":0.0828},{"s":"Trailing: mean","g":4,"w":7.19,"v":0.0835},{"s":"Trailing: mean","g":4,"w":7.22,"v":0.0822},
      {"s":"Trailing: mean","g":4,"w":7.25,"v":0.0835},{"s":"Trailing: mean","g":4,"w":7.27,"v":0.0844},{"s":"Trailing: mean","g":4,"w":7.30,"v":0.0860},
      {"s":"Trailing: mean","g":4,"w":7.335,"v":0.0878},{"s":"Trailing: mean","g":4,"w":7.36,"v":0.0778},{"s":"Trailing: mean","g":4,"w":7.38,"v":0.0850},
      {"s":"Trailing: mean","g":4,"w":7.41,"v":0.0889},{"s":"Trailing: mean","g":4,"w":7.446,"v":0.0933},{"s":"Trailing: mean","g":4,"w":7.465,"v":0.1000},
      {"s":"Trailing: mean","g":4,"w":7.475,"v":0.1089},{"s":"Trailing: mean","g":4,"w":7.49,"v":0.1178},

      {"s":"Trailing: equatorial (< 30°)","g":1,"w":2.90,"v":0.0267},{"s":"Trailing: equatorial (< 30°)","g":1,"w":2.95,"v":0.0285},{"s":"Trailing: equatorial (< 30°)","g":1,"w":3.00,"v":0.0306},
      {"s":"Trailing: equatorial (< 30°)","g":1,"w":3.05,"v":0.0344},{"s":"Trailing: equatorial (< 30°)","g":1,"w":3.07,"v":0.0370},{"s":"Trailing: equatorial (< 30°)","g":1,"w":3.087,"v":0.0394},
      {"s":"Trailing: equatorial (< 30°)","g":1,"w":3.11,"v":0.0385},{"s":"Trailing: equatorial (< 30°)","g":1,"w":3.127,"v":0.0383},{"s":"Trailing: equatorial (< 30°)","g":1,"w":3.16,"v":0.0400},
      {"s":"Trailing: equatorial (< 30°)","g":1,"w":3.19,"v":0.0413},{"s":"Trailing: equatorial (< 30°)","g":1,"w":3.23,"v":0.0420},{"s":"Trailing: equatorial (< 30°)","g":1,"w":3.27,"v":0.0428},
      {"s":"Trailing: equatorial (< 30°)","g":1,"w":3.32,"v":0.0445},{"s":"Trailing: equatorial (< 30°)","g":1,"w":3.364,"v":0.0467},{"s":"Trailing: equatorial (< 30°)","g":1,"w":3.42,"v":0.0495},
      {"s":"Trailing: equatorial (< 30°)","g":1,"w":3.47,"v":0.0528},{"s":"Trailing: equatorial (< 30°)","g":1,"w":3.52,"v":0.0563},{"s":"Trailing: equatorial (< 30°)","g":1,"w":3.575,"v":0.0600},
      {"s":"Trailing: equatorial (< 30°)","g":1,"w":3.63,"v":0.0640},{"s":"Trailing: equatorial (< 30°)","g":1,"w":3.68,"v":0.0678},{"s":"Trailing: equatorial (< 30°)","g":1,"w":3.73,"v":0.0712},
      {"s":"Trailing: equatorial (< 30°)","g":1,"w":3.786,"v":0.0744},{"s":"Trailing: equatorial (< 30°)","g":1,"w":3.83,"v":0.0765},{"s":"Trailing: equatorial (< 30°)","g":1,"w":3.865,"v":0.0776},
      {"s":"Trailing: equatorial (< 30°)","g":1,"w":3.90,"v":0.0783},{"s":"Trailing: equatorial (< 30°)","g":1,"w":3.945,"v":0.0786},{"s":"Trailing: equatorial (< 30°)","g":1,"w":3.98,"v":0.0780},
      {"s":"Trailing: equatorial (< 30°)","g":1,"w":4.00,"v":0.0772},
      {"s":"Trailing: equatorial (< 30°)","g":2,"w":4.19,"v":0.0733},{"s":"Trailing: equatorial (< 30°)","g":2,"w":4.22,"v":0.0725},{"s":"Trailing: equatorial (< 30°)","g":2,"w":4.235,"v":0.0670},
      {"s":"Trailing: equatorial (< 30°)","g":2,"w":4.245,"v":0.0611},{"s":"Trailing: equatorial (< 30°)","g":2,"w":4.26,"v":0.0670},{"s":"Trailing: equatorial (< 30°)","g":2,"w":4.275,"v":0.0717},
      {"s":"Trailing: equatorial (< 30°)","g":2,"w":4.33,"v":0.0733},{"s":"Trailing: equatorial (< 30°)","g":2,"w":4.36,"v":0.0720},{"s":"Trailing: equatorial (< 30°)","g":2,"w":4.38,"v":0.0733},
      {"s":"Trailing: equatorial (< 30°)","g":2,"w":4.43,"v":0.0736},{"s":"Trailing: equatorial (< 30°)","g":2,"w":4.486,"v":0.0742},{"s":"Trailing: equatorial (< 30°)","g":2,"w":4.55,"v":0.0747},
      {"s":"Trailing: equatorial (< 30°)","g":2,"w":4.62,"v":0.0753},{"s":"Trailing: equatorial (< 30°)","g":2,"w":4.68,"v":0.0764},{"s":"Trailing: equatorial (< 30°)","g":2,"w":4.75,"v":0.0778},
      {"s":"Trailing: equatorial (< 30°)","g":2,"w":4.81,"v":0.0792},{"s":"Trailing: equatorial (< 30°)","g":2,"w":4.88,"v":0.0809},{"s":"Trailing: equatorial (< 30°)","g":2,"w":4.95,"v":0.0822},
      {"s":"Trailing: equatorial (< 30°)","g":2,"w":5.014,"v":0.0833},{"s":"Trailing: equatorial (< 30°)","g":2,"w":5.07,"v":0.0840},{"s":"Trailing: equatorial (< 30°)","g":2,"w":5.12,"v":0.0839},
      {"s":"Trailing: equatorial (< 30°)","g":2,"w":5.18,"v":0.0830},{"s":"Trailing: equatorial (< 30°)","g":2,"w":5.25,"v":0.0817},{"s":"Trailing: equatorial (< 30°)","g":2,"w":5.32,"v":0.0803},
      {"s":"Trailing: equatorial (< 30°)","g":2,"w":5.383,"v":0.0789},{"s":"Trailing: equatorial (< 30°)","g":2,"w":5.44,"v":0.0775},{"s":"Trailing: equatorial (< 30°)","g":2,"w":5.49,"v":0.0756},
      {"s":"Trailing: equatorial (< 30°)","g":2,"w":5.55,"v":0.0730},{"s":"Trailing: equatorial (< 30°)","g":2,"w":5.595,"v":0.0700},{"s":"Trailing: equatorial (< 30°)","g":2,"w":5.64,"v":0.0670},
      {"s":"Trailing: equatorial (< 30°)","g":2,"w":5.674,"v":0.0644},{"s":"Trailing: equatorial (< 30°)","g":2,"w":5.72,"v":0.0590},
      {"s":"Trailing: equatorial (< 30°)","g":3,"w":5.65,"v":0.0655},{"s":"Trailing: equatorial (< 30°)","g":3,"w":5.70,"v":0.0630},{"s":"Trailing: equatorial (< 30°)","g":3,"w":5.766,"v":0.0605},
      {"s":"Trailing: equatorial (< 30°)","g":3,"w":5.80,"v":0.0585},{"s":"Trailing: equatorial (< 30°)","g":3,"w":5.845,"v":0.0556},{"s":"Trailing: equatorial (< 30°)","g":3,"w":5.88,"v":0.0530},
      {"s":"Trailing: equatorial (< 30°)","g":3,"w":5.924,"v":0.0511},{"s":"Trailing: equatorial (< 30°)","g":3,"w":5.96,"v":0.0505},{"s":"Trailing: equatorial (< 30°)","g":3,"w":5.99,"v":0.0506},
      {"s":"Trailing: equatorial (< 30°)","g":3,"w":6.03,"v":0.0515},{"s":"Trailing: equatorial (< 30°)","g":3,"w":6.07,"v":0.0533},{"s":"Trailing: equatorial (< 30°)","g":3,"w":6.12,"v":0.0565},
      {"s":"Trailing: equatorial (< 30°)","g":3,"w":6.16,"v":0.0600},{"s":"Trailing: equatorial (< 30°)","g":3,"w":6.228,"v":0.0656},{"s":"Trailing: equatorial (< 30°)","g":3,"w":6.27,"v":0.0680},
      {"s":"Trailing: equatorial (< 30°)","g":3,"w":6.32,"v":0.0694},{"s":"Trailing: equatorial (< 30°)","g":3,"w":6.37,"v":0.0705},{"s":"Trailing: equatorial (< 30°)","g":3,"w":6.41,"v":0.0711},
      {"s":"Trailing: equatorial (< 30°)","g":3,"w":6.45,"v":0.0705},{"s":"Trailing: equatorial (< 30°)","g":3,"w":6.49,"v":0.0700},{"s":"Trailing: equatorial (< 30°)","g":3,"w":6.52,"v":0.0715},
      {"s":"Trailing: equatorial (< 30°)","g":3,"w":6.557,"v":0.0728},{"s":"Trailing: equatorial (< 30°)","g":3,"w":6.58,"v":0.0712},{"s":"Trailing: equatorial (< 30°)","g":3,"w":6.61,"v":0.0700},
      {"s":"Trailing: equatorial (< 30°)","g":3,"w":6.62,"v":0.0705},
      {"s":"Trailing: equatorial (< 30°)","g":4,"w":6.55,"v":0.0730},{"s":"Trailing: equatorial (< 30°)","g":4,"w":6.57,"v":0.0756},{"s":"Trailing: equatorial (< 30°)","g":4,"w":6.60,"v":0.0790},
      {"s":"Trailing: equatorial (< 30°)","g":4,"w":6.637,"v":0.0822},{"s":"Trailing: equatorial (< 30°)","g":4,"w":6.68,"v":0.0850},{"s":"Trailing: equatorial (< 30°)","g":4,"w":6.716,"v":0.0878},
      {"s":"Trailing: equatorial (< 30°)","g":4,"w":6.75,"v":0.0900},{"s":"Trailing: equatorial (< 30°)","g":4,"w":6.77,"v":0.0911},{"s":"Trailing: equatorial (< 30°)","g":4,"w":6.80,"v":0.0940},
      {"s":"Trailing: equatorial (< 30°)","g":4,"w":6.82,"v":0.0956},{"s":"Trailing: equatorial (< 30°)","g":4,"w":6.84,"v":0.0935},{"s":"Trailing: equatorial (< 30°)","g":4,"w":6.86,"v":0.0900},
      {"s":"Trailing: equatorial (< 30°)","g":4,"w":6.88,"v":0.0960},{"s":"Trailing: equatorial (< 30°)","g":4,"w":6.90,"v":0.1022},{"s":"Trailing: equatorial (< 30°)","g":4,"w":6.94,"v":0.1015},
      {"s":"Trailing: equatorial (< 30°)","g":4,"w":6.98,"v":0.1011},{"s":"Trailing: equatorial (< 30°)","g":4,"w":7.03,"v":0.1033},{"s":"Trailing: equatorial (< 30°)","g":4,"w":7.07,"v":0.1060},
      {"s":"Trailing: equatorial (< 30°)","g":4,"w":7.10,"v":0.1100},{"s":"Trailing: equatorial (< 30°)","g":4,"w":7.12,"v":0.1060},{"s":"Trailing: equatorial (< 30°)","g":4,"w":7.15,"v":0.1022},
      {"s":"Trailing: equatorial (< 30°)","g":4,"w":7.19,"v":0.1030},{"s":"Trailing: equatorial (< 30°)","g":4,"w":7.22,"v":0.1022},{"s":"Trailing: equatorial (< 30°)","g":4,"w":7.25,"v":0.1040},
      {"s":"Trailing: equatorial (< 30°)","g":4,"w":7.27,"v":0.1056},{"s":"Trailing: equatorial (< 30°)","g":4,"w":7.30,"v":0.1080},{"s":"Trailing: equatorial (< 30°)","g":4,"w":7.335,"v":0.1111},
      {"s":"Trailing: equatorial (< 30°)","g":4,"w":7.36,"v":0.1090},{"s":"Trailing: equatorial (< 30°)","g":4,"w":7.39,"v":0.1122},{"s":"Trailing: equatorial (< 30°)","g":4,"w":7.41,"v":0.1150},
      {"s":"Trailing: equatorial (< 30°)","g":4,"w":7.43,"v":0.1200},{"s":"Trailing: equatorial (< 30°)","g":4,"w":7.455,"v":0.1300},{"s":"Trailing: equatorial (< 30°)","g":4,"w":7.475,"v":0.1420},
      {"s":"Trailing: equatorial (< 30°)","g":4,"w":7.49,"v":0.1450},

      {"s":"Trailing: polar (> 50°)","g":1,"w":2.90,"v":0.0094},{"s":"Trailing: polar (> 50°)","g":1,"w":2.95,"v":0.0110},{"s":"Trailing: polar (> 50°)","g":1,"w":3.00,"v":0.0128},
      {"s":"Trailing: polar (> 50°)","g":1,"w":3.05,"v":0.0150},{"s":"Trailing: polar (> 50°)","g":1,"w":3.07,"v":0.0165},{"s":"Trailing: polar (> 50°)","g":1,"w":3.087,"v":0.0178},
      {"s":"Trailing: polar (> 50°)","g":1,"w":3.11,"v":0.0173},{"s":"Trailing: polar (> 50°)","g":1,"w":3.127,"v":0.0172},{"s":"Trailing: polar (> 50°)","g":1,"w":3.16,"v":0.0176},
      {"s":"Trailing: polar (> 50°)","g":1,"w":3.19,"v":0.0178},{"s":"Trailing: polar (> 50°)","g":1,"w":3.23,"v":0.0176},{"s":"Trailing: polar (> 50°)","g":1,"w":3.27,"v":0.0176},
      {"s":"Trailing: polar (> 50°)","g":1,"w":3.32,"v":0.0183},{"s":"Trailing: polar (> 50°)","g":1,"w":3.364,"v":0.0194},{"s":"Trailing: polar (> 50°)","g":1,"w":3.42,"v":0.0210},
      {"s":"Trailing: polar (> 50°)","g":1,"w":3.47,"v":0.0228},{"s":"Trailing: polar (> 50°)","g":1,"w":3.52,"v":0.0245},{"s":"Trailing: polar (> 50°)","g":1,"w":3.575,"v":0.0261},
      {"s":"Trailing: polar (> 50°)","g":1,"w":3.63,"v":0.0276},{"s":"Trailing: polar (> 50°)","g":1,"w":3.68,"v":0.0289},{"s":"Trailing: polar (> 50°)","g":1,"w":3.73,"v":0.0296},
      {"s":"Trailing: polar (> 50°)","g":1,"w":3.786,"v":0.0300},{"s":"Trailing: polar (> 50°)","g":1,"w":3.83,"v":0.0302},{"s":"Trailing: polar (> 50°)","g":1,"w":3.865,"v":0.0303},
      {"s":"Trailing: polar (> 50°)","g":1,"w":3.91,"v":0.0302},{"s":"Trailing: polar (> 50°)","g":1,"w":3.945,"v":0.0300},{"s":"Trailing: polar (> 50°)","g":1,"w":3.98,"v":0.0294},
      {"s":"Trailing: polar (> 50°)","g":1,"w":4.00,"v":0.0291},
      {"s":"Trailing: polar (> 50°)","g":2,"w":4.19,"v":0.0258},{"s":"Trailing: polar (> 50°)","g":2,"w":4.22,"v":0.0250},{"s":"Trailing: polar (> 50°)","g":2,"w":4.243,"v":0.0231},
      {"s":"Trailing: polar (> 50°)","g":2,"w":4.26,"v":0.0245},{"s":"Trailing: polar (> 50°)","g":2,"w":4.275,"v":0.0253},{"s":"Trailing: polar (> 50°)","g":2,"w":4.33,"v":0.0250},
      {"s":"Trailing: polar (> 50°)","g":2,"w":4.38,"v":0.0250},{"s":"Trailing: polar (> 50°)","g":2,"w":4.486,"v":0.0250},{"s":"Trailing: polar (> 50°)","g":2,"w":4.55,"v":0.0255},
      {"s":"Trailing: polar (> 50°)","g":2,"w":4.62,"v":0.0261},{"s":"Trailing: polar (> 50°)","g":2,"w":4.68,"v":0.0266},{"s":"Trailing: polar (> 50°)","g":2,"w":4.75,"v":0.0272},
      {"s":"Trailing: polar (> 50°)","g":2,"w":4.81,"v":0.0280},{"s":"Trailing: polar (> 50°)","g":2,"w":4.88,"v":0.0289},{"s":"Trailing: polar (> 50°)","g":2,"w":4.95,"v":0.0296},
      {"s":"Trailing: polar (> 50°)","g":2,"w":5.014,"v":0.0302},{"s":"Trailing: polar (> 50°)","g":2,"w":5.07,"v":0.0305},{"s":"Trailing: polar (> 50°)","g":2,"w":5.12,"v":0.0304},
      {"s":"Trailing: polar (> 50°)","g":2,"w":5.18,"v":0.0300},{"s":"Trailing: polar (> 50°)","g":2,"w":5.25,"v":0.0294},{"s":"Trailing: polar (> 50°)","g":2,"w":5.32,"v":0.0286},
      {"s":"Trailing: polar (> 50°)","g":2,"w":5.383,"v":0.0278},{"s":"Trailing: polar (> 50°)","g":2,"w":5.44,"v":0.0268},{"s":"Trailing: polar (> 50°)","g":2,"w":5.49,"v":0.0256},
      {"s":"Trailing: polar (> 50°)","g":2,"w":5.55,"v":0.0240},{"s":"Trailing: polar (> 50°)","g":2,"w":5.595,"v":0.0222},{"s":"Trailing: polar (> 50°)","g":2,"w":5.64,"v":0.0207},
      {"s":"Trailing: polar (> 50°)","g":2,"w":5.674,"v":0.0194},{"s":"Trailing: polar (> 50°)","g":2,"w":5.72,"v":0.0183},
      {"s":"Trailing: polar (> 50°)","g":3,"w":5.65,"v":0.0200},{"s":"Trailing: polar (> 50°)","g":3,"w":5.70,"v":0.0205},{"s":"Trailing: polar (> 50°)","g":3,"w":5.766,"v":0.0203},
      {"s":"Trailing: polar (> 50°)","g":3,"w":5.80,"v":0.0200},{"s":"Trailing: polar (> 50°)","g":3,"w":5.845,"v":0.0189},{"s":"Trailing: polar (> 50°)","g":3,"w":5.90,"v":0.0182},
      {"s":"Trailing: polar (> 50°)","g":3,"w":5.95,"v":0.0178},{"s":"Trailing: polar (> 50°)","g":3,"w":5.99,"v":0.0183},{"s":"Trailing: polar (> 50°)","g":3,"w":6.03,"v":0.0194},
      {"s":"Trailing: polar (> 50°)","g":3,"w":6.08,"v":0.0212},{"s":"Trailing: polar (> 50°)","g":3,"w":6.12,"v":0.0233},{"s":"Trailing: polar (> 50°)","g":3,"w":6.17,"v":0.0255},
      {"s":"Trailing: polar (> 50°)","g":3,"w":6.215,"v":0.0272},{"s":"Trailing: polar (> 50°)","g":3,"w":6.27,"v":0.0282},{"s":"Trailing: polar (> 50°)","g":3,"w":6.32,"v":0.0289},
      {"s":"Trailing: polar (> 50°)","g":3,"w":6.37,"v":0.0290},{"s":"Trailing: polar (> 50°)","g":3,"w":6.41,"v":0.0289},{"s":"Trailing: polar (> 50°)","g":3,"w":6.45,"v":0.0283},
      {"s":"Trailing: polar (> 50°)","g":3,"w":6.49,"v":0.0278},{"s":"Trailing: polar (> 50°)","g":3,"w":6.53,"v":0.0285},{"s":"Trailing: polar (> 50°)","g":3,"w":6.57,"v":0.0294},
      {"s":"Trailing: polar (> 50°)","g":3,"w":6.61,"v":0.0300},
      {"s":"Trailing: polar (> 50°)","g":4,"w":6.53,"v":0.0222},{"s":"Trailing: polar (> 50°)","g":4,"w":6.57,"v":0.0245},{"s":"Trailing: polar (> 50°)","g":4,"w":6.61,"v":0.0267},
      {"s":"Trailing: polar (> 50°)","g":4,"w":6.65,"v":0.0280},{"s":"Trailing: polar (> 50°)","g":4,"w":6.69,"v":0.0289},{"s":"Trailing: polar (> 50°)","g":4,"w":6.73,"v":0.0298},
      {"s":"Trailing: polar (> 50°)","g":4,"w":6.77,"v":0.0306},{"s":"Trailing: polar (> 50°)","g":4,"w":6.80,"v":0.0315},{"s":"Trailing: polar (> 50°)","g":4,"w":6.84,"v":0.0333},
      {"s":"Trailing: polar (> 50°)","g":4,"w":6.88,"v":0.0322},{"s":"Trailing: polar (> 50°)","g":4,"w":6.914,"v":0.0372},{"s":"Trailing: polar (> 50°)","g":4,"w":6.95,"v":0.0362},
      {"s":"Trailing: polar (> 50°)","g":4,"w":6.98,"v":0.0356},{"s":"Trailing: polar (> 50°)","g":4,"w":7.03,"v":0.0356},{"s":"Trailing: polar (> 50°)","g":4,"w":7.07,"v":0.0368},
      {"s":"Trailing: polar (> 50°)","g":4,"w":7.10,"v":0.0383},{"s":"Trailing: polar (> 50°)","g":4,"w":7.12,"v":0.0370},{"s":"Trailing: polar (> 50°)","g":4,"w":7.15,"v":0.0350},
      {"s":"Trailing: polar (> 50°)","g":4,"w":7.19,"v":0.0355},{"s":"Trailing: polar (> 50°)","g":4,"w":7.22,"v":0.0356},{"s":"Trailing: polar (> 50°)","g":4,"w":7.25,"v":0.0345},
      {"s":"Trailing: polar (> 50°)","g":4,"w":7.28,"v":0.0333},{"s":"Trailing: polar (> 50°)","g":4,"w":7.31,"v":0.0310},{"s":"Trailing: polar (> 50°)","g":4,"w":7.34,"v":0.0283},
      {"s":"Trailing: polar (> 50°)","g":4,"w":7.37,"v":0.0285},{"s":"Trailing: polar (> 50°)","g":4,"w":7.41,"v":0.0272},{"s":"Trailing: polar (> 50°)","g":4,"w":7.446,"v":0.0289},
      {"s":"Trailing: polar (> 50°)","g":4,"w":7.475,"v":0.0383},{"s":"Trailing: polar (> 50°)","g":4,"w":7.49,"v":0.0400}
    ]
  },
  "hconcat": [
    {
      "title": "Leading",
      "width": 580,
      "height": 433,
      "layer": [
        {
          "data": {"name": "sim"},
          "mark": {"type": "line", "strokeWidth": 2, "clip": true},
          "encoding": {
            "x": {"field": "w", "type": "quantitative", "scale": {"domain": [2.9, 7.5], "nice": false, "zero": false},
              "axis": {"title": "Wavelength (μm)", "values": [3, 4, 5, 6, 7], "tickSize": -7, "labelPadding": 16, "titlePadding": 3}},
            "y": {"field": "v", "type": "quantitative", "scale": {"domain": [0, 0.145], "nice": false},
              "axis": {"title": "Radiance factor (I/F)", "values": [0, 0.02, 0.04, 0.06, 0.08, 0.1, 0.12, 0.14], "format": ".2f", "tickSize": -7, "labelPadding": 13, "titlePadding": 6}},
            "color": {"field": "s", "type": "nominal",
              "scale": {"domain": ["Simulation", "Leading: mean", "Leading: equatorial (< 30°)", "Leading: polar (> 50°)"], "range": ["#000000", "#762a83", "#e8232a", "#1770b6"]},
              "legend": {"title": null}}
          }
        },
        {
          "data": {"name": "lead"},
          "mark": {"type": "line", "strokeWidth": 2, "clip": true},
          "encoding": {
            "x": {"field": "w", "type": "quantitative",
              "axis": {"orient": "bottom", "title": null, "labels": false, "domain": false, "tickSize": -4,
                "values": [3.2, 3.4, 3.6, 3.8, 4.2, 4.4, 4.6, 4.8, 5.2, 5.4, 5.6, 5.8, 6.2, 6.4, 6.6, 6.8, 7.2, 7.4]}},
            "y": {"field": "v", "type": "quantitative",
              "axis": {"orient": "left", "title": null, "labels": false, "domain": false, "tickSize": -4,
                "values": [0.005, 0.01, 0.015, 0.025, 0.03, 0.035, 0.045, 0.05, 0.055, 0.065, 0.07, 0.075, 0.085, 0.09, 0.095, 0.105, 0.11, 0.115, 0.125, 0.13, 0.135]}},
            "color": {"field": "s", "type": "nominal"},
            "detail": {"field": "g"}
          }
        }
      ],
      "resolve": {"axis": {"x": "independent", "y": "independent"}}
    },
    {
      "title": "Trailing",
      "width": 580,
      "height": 433,
      "layer": [
        {
          "data": {"name": "sim"},
          "mark": {"type": "line", "strokeWidth": 2, "clip": true},
          "encoding": {
            "x": {"field": "w", "type": "quantitative", "scale": {"domain": [2.9, 7.5], "nice": false, "zero": false},
              "axis": {"title": "Wavelength (μm)", "values": [3, 4, 5, 6, 7], "tickSize": -7, "labelPadding": 16, "titlePadding": 3}},
            "y": {"field": "v", "type": "quantitative", "scale": {"domain": [0, 0.145], "nice": false},
              "axis": {"title": "Radiance factor (I/F)", "values": [0, 0.02, 0.04, 0.06, 0.08, 0.1, 0.12, 0.14], "format": ".2f", "tickSize": -7, "labelPadding": 13, "titlePadding": 6}},
            "color": {"field": "s", "type": "nominal",
              "scale": {"domain": ["Simulation", "Trailing: mean", "Trailing: equatorial (< 30°)", "Trailing: polar (> 50°)"], "range": ["#000000", "#762a83", "#e8232a", "#1770b6"]},
              "legend": {"title": null}}
          }
        },
        {
          "data": {"name": "trail"},
          "mark": {"type": "line", "strokeWidth": 2, "clip": true},
          "encoding": {
            "x": {"field": "w", "type": "quantitative",
              "axis": {"orient": "bottom", "title": null, "labels": false, "domain": false, "tickSize": -4,
                "values": [3.2, 3.4, 3.6, 3.8, 4.2, 4.4, 4.6, 4.8, 5.2, 5.4, 5.6, 5.8, 6.2, 6.4, 6.6, 6.8, 7.2, 7.4]}},
            "y": {"field": "v", "type": "quantitative",
              "axis": {"orient": "left", "title": null, "labels": false, "domain": false, "tickSize": -4,
                "values": [0.005, 0.01, 0.015, 0.025, 0.03, 0.035, 0.045, 0.05, 0.055, 0.065, 0.07, 0.075, 0.085, 0.09, 0.095, 0.105, 0.11, 0.115, 0.125, 0.13, 0.135]}},
            "color": {"field": "s", "type": "nominal"},
            "detail": {"field": "g"}
          }
        }
      ],
      "resolve": {"axis": {"x": "independent", "y": "independent"}}
    }
  ],
  "resolve": {"scale": {"color": "independent"}}
}
